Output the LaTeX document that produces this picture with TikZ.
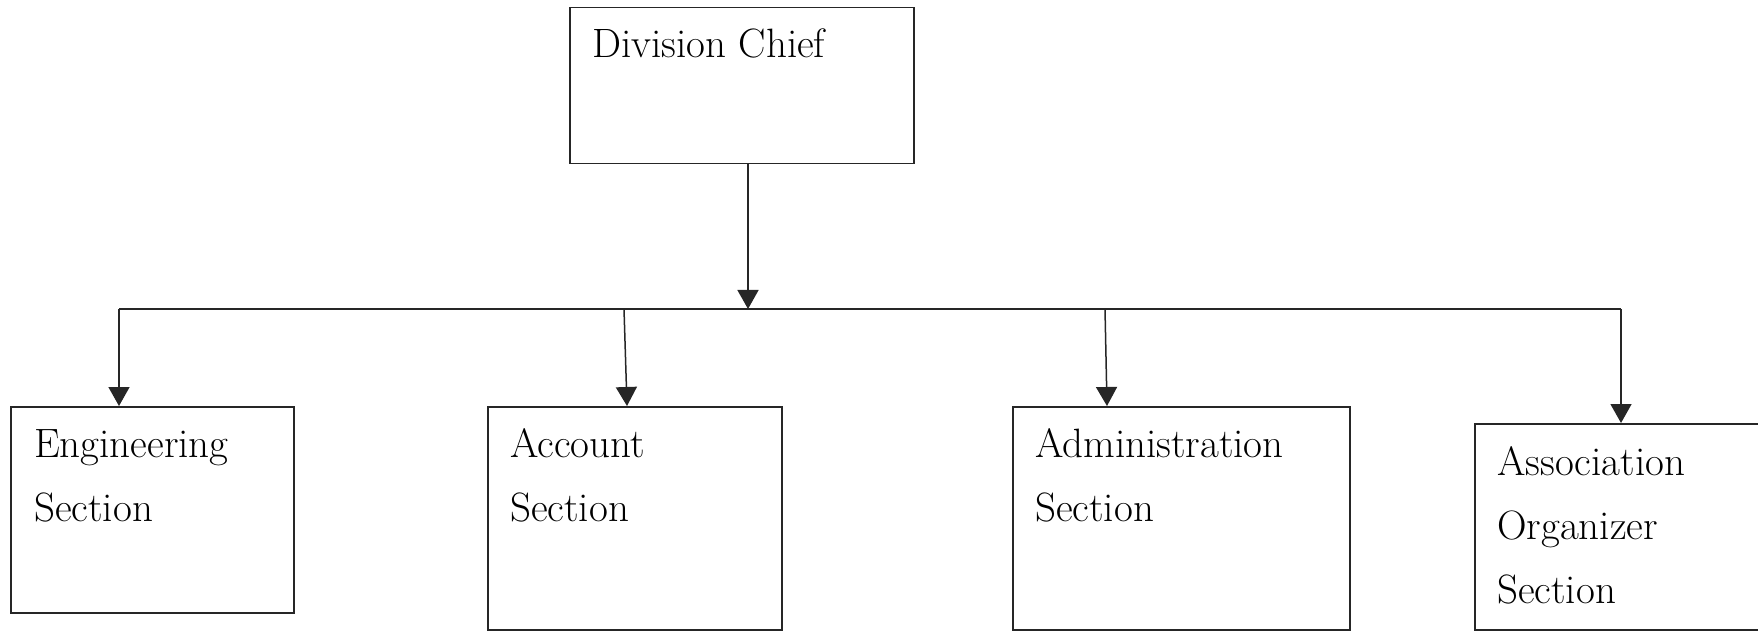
\documentclass[tikz,border=0pt]{standalone}
\usepackage{fontspec}
\usetikzlibrary{arrows.meta,calc}
\tikzset{
  unitbox/.style={draw=black!85, line width=1.5pt, rectangle, inner sep=0pt, anchor=north west},
  txt/.style={anchor=base west, align=left, inner sep=0pt, font=\fontsize{41}{64}\selectfont},
  link/.style={line width=1.5pt, draw=black!85},
  arr/.style={link, -{Triangle[width=21pt,length=19pt]}}
}
\begin{document}
\begin{tikzpicture}[x=1pt,y=1pt]
  \useasboundingbox (0,0) rectangle (1758,630);
  \clip (0,0) rectangle (1758,630);

  % boxes
  \node[unitbox, minimum width=344pt, minimum height=156pt] (chief) at (569,623) {};
  \node[unitbox, minimum width=283pt, minimum height=206pt] (eng) at (10,224) {};
  \node[unitbox, minimum width=294pt, minimum height=223pt] (acc) at (487,224) {};
  \node[unitbox, minimum width=337pt, minimum height=223pt] (adm) at (1012,224) {};
  \node[unitbox, minimum width=300pt, minimum height=206pt] (aso) at (1474,207) {};

  % labels (anchored on the baseline of their last line)
  \node[txt] (chieftxt) at (592,572) {Division Chief};
  \node[txt] (engtxt) at (34,109) {Engineering\\Section};
  \node[txt] (acctxt) at (510,109) {Account\\Section};
  \node[txt] (admtxt) at (1035,109) {Administration\\Section};
  \node[txt] (asotxt) at (1497,27) {Association\\Organizer\\Section};

  % distribution bar
  \coordinate (hub) at (748,321);
  \coordinate (b1) at (119,321);
  \coordinate (b2) at (624,321);
  \coordinate (b3) at (1105,321);
  \coordinate (b4) at (1621,321);
  \draw[link] (b1) -- (b4);

  % connectors
  \draw[arr] (chief.south -| hub) -- (hub);
  \draw[arr] (b1) -- (eng.north -| b1);
  \draw[arr] (b2) -- ($(acc.north west)+(140,0)$);
  \draw[arr] (b3) -- ($(adm.north west)+(95,0)$);
  \draw[arr] (b4) -- (aso.north -| b4);
\end{tikzpicture}
\end{document}
